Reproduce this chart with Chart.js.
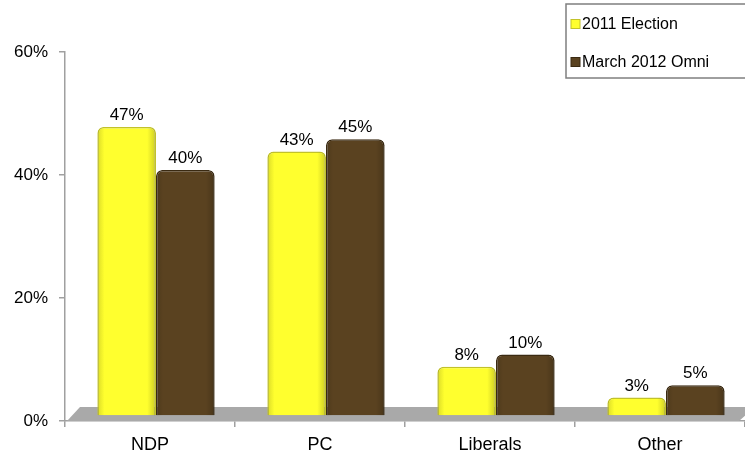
<!DOCTYPE html>
<html>
<head>
<meta charset="utf-8">
<script src="https://cdn.jsdelivr.net/npm/chart.js@4/dist/chart.umd.min.js"></script>
<style>
  html, body { margin: 0; padding: 0; background: #fff; }
  #wrap { width: 745px; height: 452px; position: relative; }
</style>
</head>
<body>
<div id="wrap"><canvas id="myChart"></canvas></div>
<script>
// chart values
const categories = ['NDP', 'PC', 'Liberals', 'Other'];
const seriesNames = ['2011 Election', 'March 2012 Omni'];
const election2011 = [47, 43, 8, 3];
const omni2012 = [40, 45, 10, 5];
const yTicks = [0, 20, 40, 60];

const fillColors = ['#ffff2e', '#5a4220'];
const edgeColors = ['#c2c22a', '#3a2a12'];
const font = 'Arial, "Liberation Sans", sans-serif';

// fake 3D depth: floor + bars pushed back a bit
const depthX = 6, depthY = -5;

const depthPlugin = {
    id: 'depth',
    beforeDatasetsDraw(chart) {
        const ctx = chart.ctx;
        const a = chart.chartArea;
        ctx.save();
        ctx.fillStyle = '#a9a9a9';
        ctx.beginPath();
        ctx.moveTo(a.left + 2, a.bottom);
        ctx.lineTo(a.left + 15, a.bottom - 14);
        ctx.lineTo(a.right + 10, a.bottom - 14);
        ctx.lineTo(a.right - 6, a.bottom);
        ctx.closePath();
        ctx.fill();
        ctx.restore();
        ctx.save();
        ctx.translate(depthX, depthY);
    },
    afterDatasetsDraw(chart) {
        const ctx = chart.ctx;
        // soft shading on the bar sides
        chart.data.datasets.forEach((ds, i) => {
            chart.getDatasetMeta(i).data.forEach(bar => {
                const left = bar.x - bar.width / 2;
                const g = ctx.createLinearGradient(left, 0, left + bar.width, 0);
                g.addColorStop(0, 'rgba(0,0,0,0.14)');
                g.addColorStop(0.12, 'rgba(0,0,0,0)');
                g.addColorStop(0.85, 'rgba(0,0,0,0)');
                g.addColorStop(1, 'rgba(0,0,0,0.2)');
                ctx.fillStyle = g;
                ctx.beginPath();
                ctx.roundRect(left + 1, bar.y + 1, bar.width - 2, bar.base - bar.y - 1, [5, 5, 0, 0]);
                ctx.fill();
            });
        });
        ctx.restore();
        // value labels
        ctx.save();
        ctx.font = '17px ' + font;
        ctx.fillStyle = '#000';
        ctx.textAlign = 'center';
        ctx.textBaseline = 'alphabetic';
        chart.data.datasets.forEach((ds, i) => {
            chart.getDatasetMeta(i).data.forEach((bar, j) => {
                ctx.fillText(ds.data[j] + '%', bar.x + depthX, bar.y + depthY - 7);
            });
        });
        ctx.restore();
    },
    afterDraw(chart) {
        // legend box, runs off the right edge like the original
        const ctx = chart.ctx;
        ctx.save();
        ctx.fillStyle = '#fff';
        ctx.fillRect(566, 4, 200, 74);
        ctx.strokeStyle = '#7f7f7f';
        ctx.lineWidth = 1.5;
        ctx.strokeRect(566, 4, 200, 74);
        ctx.font = '16px ' + font;
        ctx.textBaseline = 'middle';
        ctx.textAlign = 'left';
        seriesNames.forEach((name, i) => {
            const y = 24 + i * 38;
            ctx.fillStyle = fillColors[i];
            ctx.fillRect(571, y - 4.5, 9, 9);
            ctx.strokeStyle = edgeColors[i];
            ctx.lineWidth = 1;
            ctx.strokeRect(571, y - 4.5, 9, 9);
            ctx.fillStyle = '#000';
            ctx.fillText(name, 582, y + 1);
        });
        ctx.restore();
    }
};

const ctx = document.getElementById('myChart').getContext('2d');

new Chart(ctx, {
    type: 'bar',
    data: {
        labels: categories,
        datasets: [{
            label: seriesNames[0],
            data: election2011,
            backgroundColor: fillColors[0],
            borderColor: edgeColors[0],
            borderWidth: 1.5,
            borderSkipped: 'bottom',
            borderRadius: { topLeft: 6, topRight: 6 }
        }, {
            label: seriesNames[1],
            data: omni2012,
            backgroundColor: fillColors[1],
            borderColor: edgeColors[1],
            borderWidth: 1.5,
            borderSkipped: 'bottom',
            borderRadius: { topLeft: 6, topRight: 6 }
        }]
    },
    options: {
        responsive: true,
        maintainAspectRatio: false,
        animation: false,
        layout: { padding: { top: 52, right: 0, left: 0, bottom: 0 } },
        datasets: { bar: { categoryPercentage: 0.69, barPercentage: 1.0 } },
        plugins: {
            legend: { display: false },
            tooltip: { enabled: false }
        },
        scales: {
            x: {
                afterFit: scale => { scale.height = 31; },
                grid: { drawOnChartArea: false, tickLength: 6, color: '#a0a0a0', lineWidth: 1.5 },
                border: { color: '#a0a0a0', width: 1.5 },
                ticks: { color: '#000', font: { size: 18, family: font }, padding: 7 }
            },
            y: {
                min: 0,
                max: 60,
                afterFit: scale => { scale.width = 65; },
                afterBuildTicks: scale => { scale.ticks = yTicks.map(v => ({ value: v })); },
                grid: { drawOnChartArea: false, tickLength: 6, color: '#a0a0a0', lineWidth: 1.5 },
                border: { color: '#a0a0a0', width: 1.5 },
                ticks: {
                    color: '#000',
                    font: { size: 17, family: font },
                    padding: 11,
                    callback: v => v + '%'
                }
            }
        }
    },
    plugins: [depthPlugin]
});
</script>
</body>
</html>
